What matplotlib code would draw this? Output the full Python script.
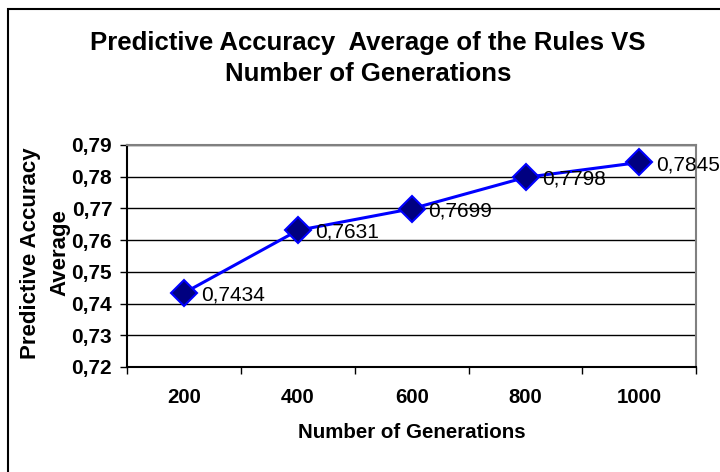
import matplotlib
matplotlib.use("Agg")
import matplotlib.pyplot as plt
from matplotlib.patches import Rectangle
import numpy as np

# data
generations = ['200', '400', '600', '800', '1000']
accuracy = [0.7434, 0.7631, 0.7699, 0.7798, 0.7845]
point_labels = ['0,7434', '0,7631', '0,7699', '0,7798', '0,7845']
y_ticks = [0.72, 0.73, 0.74, 0.75, 0.76, 0.77, 0.78, 0.79]
y_tick_labels = ['0,72', '0,73', '0,74', '0,75', '0,76', '0,77', '0,78', '0,79']

plt.rcParams['font.family'] = ['Liberation Sans', 'DejaVu Sans']

fig = plt.figure(figsize=(7.2, 4.72), dpi=100)

# chart area border (only left and top visible in the original)
fig.patches.append(Rectangle((8 / 720, -0.1), 1.2, (472 - 9) / 472 + 0.1,
                             transform=fig.transFigure, fill=False,
                             edgecolor='black', linewidth=1.5))

ax = fig.add_axes([0.177, 0.2225, 0.79, 0.4703])

x = np.arange(len(generations))
ax.plot(x, accuracy, color='#0000FF', linewidth=2.2, marker='D', markersize=13,
        markerfacecolor='#000080', markeredgecolor='#0000FF', markeredgewidth=1.5,
        zorder=3, clip_on=False)

for xi, yi, lab in zip(x, accuracy, point_labels):
    ax.annotate(lab, (xi, yi), xytext=(12, -1.5), textcoords='offset points',
                ha='left', va='center', fontsize=15, color='black')

ax.set_xlim(-0.5, len(generations) - 0.5)
ax.set_ylim(0.72, 0.79)

ax.set_yticks(y_ticks)
ax.set_yticklabels(y_tick_labels, fontweight='bold', fontsize=15)
ax.set_xticks(np.arange(-0.5, len(generations), 1.0))
ax.set_xticklabels([])
ax.set_xticks(x, minor=True)
ax.set_xticklabels(generations, minor=True, fontweight='bold', fontsize=14.7)
ax.tick_params(axis='x', which='major', direction='out', length=5, width=1)
ax.tick_params(axis='x', which='minor', length=0, pad=15)
ax.tick_params(axis='y', direction='out', length=5, width=1, pad=6)

ax.grid(axis='y', color='black', linewidth=1)
ax.set_axisbelow(True)

ax.spines['left'].set_color('black')
ax.spines['bottom'].set_color('black')
ax.spines['top'].set_color('#808080')
ax.spines['right'].set_color('#808080')
for s in ax.spines.values():
    s.set_linewidth(1.5)

ax.set_xlabel('Number of Generations', fontweight='bold', fontsize=14.8, labelpad=12)

fig.text(45 / 720, 1 - 253 / 472, 'Predictive Accuracy\nAverage', rotation=90,
         ha='center', va='center', fontweight='bold', fontsize=16, linespacing=1.5)

fig.text(0.511, 0.876, 'Predictive Accuracy  Average of the Rules VS\nNumber of Generations',
         ha='center', va='center', fontweight='bold', fontsize=18.5, linespacing=1.38)

fig.savefig('out.png', dpi=100)
